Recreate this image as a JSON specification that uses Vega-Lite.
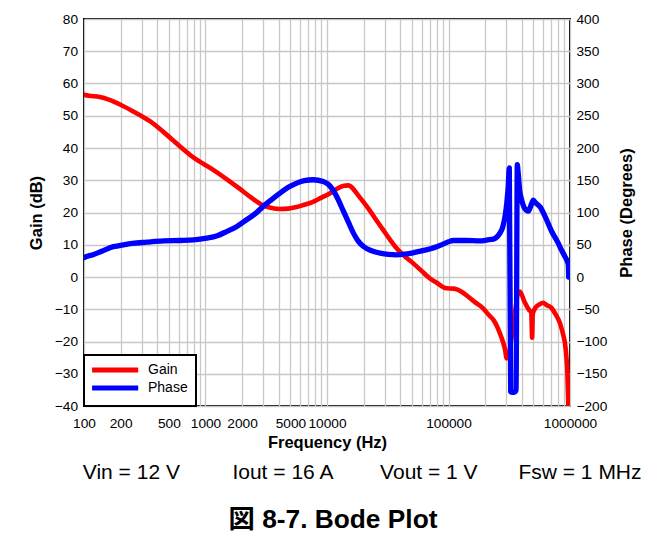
{
  "$schema": "https://vega.github.io/schema/vega-lite/v6.json",
  "autosize": {"type": "none"},
  "padding": {"left": 84, "top": 19, "right": 96, "bottom": 140},
  "width": 486,
  "height": 387,
  "title": {
    "text": "\u200b\u00a0\u00a0\u00a0\u00a0\u00a0\u00a0\u00a0\u00a0\u00a0\u00a0Vin = 12 V\u00a0\u00a0\u00a0\u00a0\u00a0\u00a0\u00a0\u00a0\u00a0Iout = 16 A\u00a0\u00a0\u00a0\u00a0\u00a0\u00a0\u00a0\u00a0Vout = 1 V\u00a0\u00a0\u00a0\u00a0\u00a0\u00a0\u00a0Fsw = 1 MHz",
    "subtitle": "図 8-7. Bode Plot",
    "orient": "bottom",
    "anchor": "middle",
    "frame": "group",
    "dx": 6,
    "offset": 11,
    "font": "Liberation Sans, Noto Sans CJK JP",
    "fontSize": 21,
    "fontWeight": "normal",
    "color": "#000000",
    "subtitleFont": "Liberation Sans, Noto Sans CJK JP",
    "subtitleFontSize": 26.3,
    "subtitleFontWeight": "bold",
    "subtitleColor": "#000000",
    "subtitlePadding": 24
  },
  "datasets": {
    "gain": [
      {"f": 100, "g": 56.5}, {"f": 110, "g": 56.2}, {"f": 135, "g": 55.8}, {"f": 160, "g": 55.0},
      {"f": 198, "g": 53.5}, {"f": 250, "g": 51.5}, {"f": 349, "g": 48.3}, {"f": 450, "g": 45.0},
      {"f": 617, "g": 40.5}, {"f": 800, "g": 37.0}, {"f": 1150, "g": 33.3}, {"f": 1590, "g": 29.6},
      {"f": 1920, "g": 27.3}, {"f": 2400, "g": 24.5}, {"f": 2980, "g": 22.2}, {"f": 3500, "g": 21.4},
      {"f": 4100, "g": 21.1}, {"f": 4800, "g": 21.2}, {"f": 5630, "g": 21.7}, {"f": 6500, "g": 22.4},
      {"f": 7600, "g": 23.2}, {"f": 9000, "g": 24.6}, {"f": 10600, "g": 26.0}, {"f": 12000, "g": 27.3},
      {"f": 13500, "g": 28.2}, {"f": 15000, "g": 28.4}, {"f": 16200, "g": 27.6}, {"f": 17500, "g": 26.0},
      {"f": 20000, "g": 23.2}, {"f": 22300, "g": 20.8}, {"f": 25500, "g": 17.6}, {"f": 29000, "g": 14.6},
      {"f": 33000, "g": 11.6}, {"f": 37400, "g": 8.9}, {"f": 44000, "g": 6.3}, {"f": 51000, "g": 4.3},
      {"f": 60000, "g": 1.9}, {"f": 70000, "g": -0.4}, {"f": 80000, "g": -1.8}, {"f": 96000, "g": -3.5},
      {"f": 110000, "g": -3.6}, {"f": 120000, "g": -4.0}, {"f": 140000, "g": -5.6}, {"f": 165000, "g": -7.8},
      {"f": 190000, "g": -9.5}, {"f": 215000, "g": -11.8}, {"f": 234000, "g": -13.3}, {"f": 250000, "g": -15.2},
      {"f": 265000, "g": -17.5}, {"f": 280000, "g": -20}, {"f": 292000, "g": -22.5}, {"f": 301000, "g": -25.2},
      {"f": 387000, "g": -4.5}, {"f": 420000, "g": -7.5}, {"f": 460000, "g": -10.2}, {"f": 480000, "g": -11.0},
      {"f": 488000, "g": -18.8}, {"f": 494000, "g": -11.5}, {"f": 520000, "g": -9.5}, {"f": 560000, "g": -8.5},
      {"f": 600000, "g": -8.0}, {"f": 640000, "g": -8.7}, {"f": 700000, "g": -9.5}, {"f": 760000, "g": -11.5},
      {"f": 827000, "g": -14.3}, {"f": 880000, "g": -18}, {"f": 909000, "g": -20.5}, {"f": 935000, "g": -25},
      {"f": 950000, "g": -28.9}, {"f": 968000, "g": -39.5}
    ],
    "phase": [
      {"f": 100, "p": 30}, {"f": 105, "p": 31.7}, {"f": 120, "p": 35}, {"f": 140, "p": 40},
      {"f": 174, "p": 47}, {"f": 200, "p": 49}, {"f": 250, "p": 52}, {"f": 328, "p": 54},
      {"f": 450, "p": 56}, {"f": 617, "p": 56.6}, {"f": 800, "p": 57.5}, {"f": 1020, "p": 60.2},
      {"f": 1250, "p": 64}, {"f": 1490, "p": 70.5}, {"f": 1800, "p": 78}, {"f": 2180, "p": 88.7},
      {"f": 2600, "p": 99}, {"f": 2980, "p": 109.3}, {"f": 3500, "p": 120}, {"f": 4100, "p": 130},
      {"f": 4800, "p": 139}, {"f": 5630, "p": 145.6}, {"f": 6500, "p": 149.5}, {"f": 7700, "p": 150.8},
      {"f": 9300, "p": 148}, {"f": 10200, "p": 144}, {"f": 11200, "p": 135}, {"f": 12300, "p": 121},
      {"f": 13500, "p": 104}, {"f": 15000, "p": 85}, {"f": 16500, "p": 68}, {"f": 18000, "p": 56},
      {"f": 20000, "p": 47.2}, {"f": 23000, "p": 41}, {"f": 27400, "p": 37}, {"f": 32000, "p": 35},
      {"f": 37400, "p": 34.3}, {"f": 44000, "p": 35.5}, {"f": 51000, "p": 37.5}, {"f": 60000, "p": 40.5},
      {"f": 70000, "p": 43.5}, {"f": 80000, "p": 47}, {"f": 90000, "p": 51}, {"f": 100000, "p": 54.5},
      {"f": 109000, "p": 56.6}, {"f": 140000, "p": 56.6}, {"f": 181000, "p": 56}, {"f": 210000, "p": 57.5},
      {"f": 234000, "p": 58.7}, {"f": 250000, "p": 62}, {"f": 265000, "p": 68}, {"f": 280000, "p": 78},
      {"f": 292000, "p": 94}, {"f": 302000, "p": 115}, {"f": 310000, "p": 140}, {"f": 316500, "p": 169},
      {"f": 325000, "p": -178}, {"f": 335000, "p": -179}, {"f": 352000, "p": -178}, {"f": 360000, "p": -175},
      {"f": 368400, "p": 174}, {"f": 375000, "p": 160}, {"f": 385000, "p": 135}, {"f": 400000, "p": 119.7},
      {"f": 425000, "p": 106}, {"f": 454000, "p": 102}, {"f": 475000, "p": 110}, {"f": 499000, "p": 119},
      {"f": 520000, "p": 115}, {"f": 565000, "p": 109}, {"f": 623000, "p": 94}, {"f": 707000, "p": 70.5},
      {"f": 800000, "p": 52.5}, {"f": 850000, "p": 42}, {"f": 909000, "p": 31.7}, {"f": 950000, "p": 24},
      {"f": 968000, "p": 18.8}, {"f": 975000, "p": 0}
    ]
  },
  "layer": [
    {
      "data": {"name": "gain"},
      "mark": {"type": "line", "strokeWidth": 4.6, "strokeJoin": "round", "strokeCap": "round", "interpolate": "monotone", "clip": true},
      "encoding": {
        "x": {
          "field": "f", "type": "quantitative",
          "scale": {"type": "log", "domain": [100, 1000000], "nice": false},
          "axis": {
            "title": "Frequency (Hz)",
            "values": [100,200,300,400,500,600,700,800,900,1000,2000,3000,4000,5000,6000,7000,8000,9000,10000,20000,30000,40000,50000,60000,70000,80000,90000,100000,200000,300000,400000,500000,600000,700000,800000,900000,1000000],
            "format": "d",
            "labelExpr": "indexof([100,200,500,1000,2000,5000,10000,100000,1000000], datum.value) >= 0 ? datum.label : ''",
            "labelOverlap": false,
            "labelBound": false,
            "labelFlush": false,
            "labelPadding": 10,
            "titlePadding": 5,
            "grid": true
          }
        },
        "y": {
          "field": "g", "type": "quantitative",
          "scale": {"domain": [-40, 80], "nice": false, "zero": false},
          "axis": {
            "title": "Gain (dB)",
            "orient": "left",
            "values": [-40,-30,-20,-10,0,10,20,30,40,50,60,70,80],
            "labelPadding": 6.5,
            "grid": true,
            "titleX": -47.3,
            "titleY": 193.5,
            "titleAngle": 270,
            "titleBaseline": "middle",
            "titleAlign": "center"
          }
        },
        "color": {
          "datum": "Gain",
          "scale": {"domain": ["Gain", "Phase"], "range": ["#ff0000", "#0000ff"]},
          "legend": {"title": null}
        }
      }
    },
    {
      "data": {"name": "phase"},
      "mark": {"type": "line", "strokeWidth": 5.3, "strokeJoin": "round", "strokeCap": "round", "interpolate": "monotone", "clip": true},
      "encoding": {
        "x": {"field": "f", "type": "quantitative"},
        "y": {
          "field": "p", "type": "quantitative",
          "scale": {"domain": [-200, 400], "nice": false, "zero": false},
          "axis": {
            "title": "Phase (Degrees)",
            "orient": "right",
            "values": [-200,-150,-100,-50,0,50,100,150,200,250,300,350,400],
            "labelPadding": 6,
            "grid": false,
            "titleX": 56,
            "titleY": 193.5,
            "titleAngle": 270,
            "titleBaseline": "middle",
            "titleAlign": "center"
          }
        },
        "color": {"datum": "Phase"}
      }
    }
  ],
  "resolve": {"scale": {"y": "independent"}},
  "config": {
    "font": "Liberation Sans",
    "view": {"stroke": "#000000", "strokeWidth": 2},
    "axis": {
      "labelFont": "Liberation Sans",
      "labelFontSize": 13.7,
      "labelColor": "#000000",
      "titleFont": "Liberation Sans",
      "titleFontSize": 16.5,
      "titleFontWeight": "bold",
      "titleColor": "#000000",
      "domain": false,
      "ticks": false,
      "tickSize": 0,
      "gridColor": "#c8c8c8",
      "gridWidth": 1.3,
      "gridOpacity": 1
    },
    "legend": {
      "orient": "bottom-left",
      "offset": 0,
      "fillColor": "#ffffff",
      "strokeColor": "#000000",
      "strokeWidth": 2,
      "padding": 7.5,
      "labelFont": "Liberation Sans",
      "labelFontSize": 14,
      "labelColor": "#000000",
      "labelOffset": 41.5,
      "symbolType": "M-1.5,0H8.5",
      "symbolSize": 85,
      "symbolStrokeWidth": 5,
      "rowPadding": -3.8
    }
  }
}
